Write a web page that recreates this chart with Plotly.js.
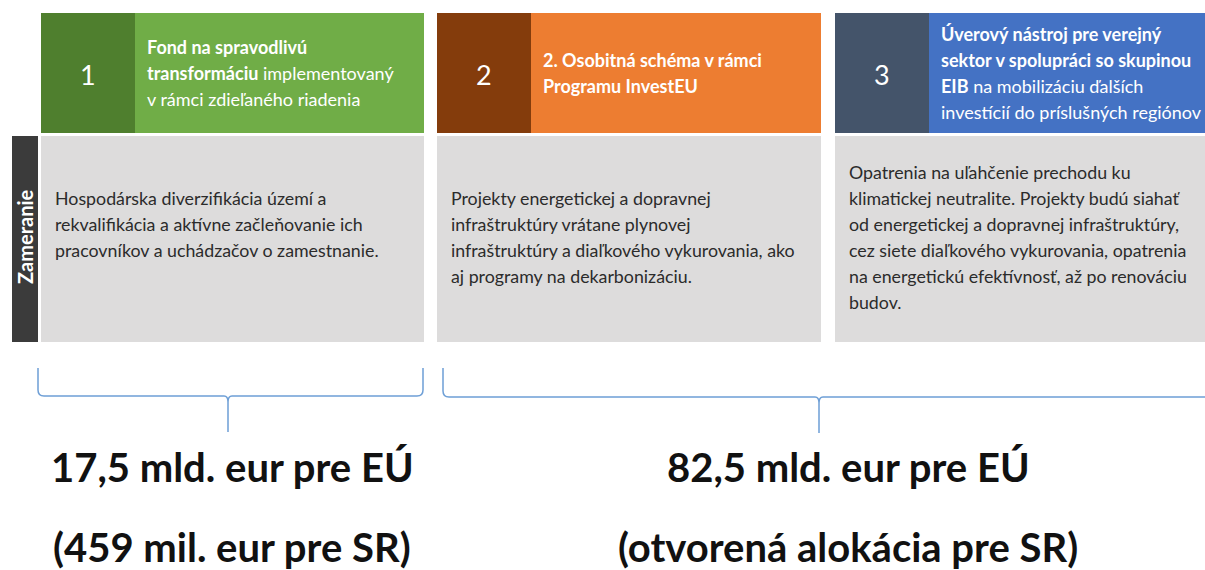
<!DOCTYPE html>
<html>
<head>
<meta charset="utf-8">
<script src="https://cdn.plot.ly/plotly-3.0.1.min.js"></script>
<style>html,body{margin:0;padding:0;background:#fff;}#chart{width:1205px;height:570px;}</style>
</head>
<body>
<div id="chart"></div>
<script>
// ---- data ----
const numbers = ['1', '2', '3'];
const headerLines = [
  ['<b>Fond na spravodlivú</b>', '<b>transformáciu</b> implementovaný', 'v rámci zdieľaného riadenia'],
  ['<b>2. Osobitná schéma v rámci</b>', '<b>Programu InvestEU</b>'],
  ['<b>Úverový nástroj pre verejný</b>', '<b>sektor v spolupráci so skupinou</b>', '<b>EIB</b> na mobilizáciu ďalších', 'investícií do príslušných regiónov']
];
const bodyLines = [
  ['Hospodárska diverzifikácia území a', 'rekvalifikácia a aktívne začleňovanie ich', 'pracovníkov a uchádzačov o zamestnanie.'],
  ['Projekty energetickej a dopravnej', 'infraštruktúry vrátane plynovej', 'infraštruktúry a diaľkového vykurovania, ako', 'aj programy na dekarbonizáciu.'],
  ['Opatrenia na uľahčenie prechodu ku', 'klimatickej neutralite. Projekty budú siahať', 'od energetickej a dopravnej infraštruktúry,', 'cez siete diaľkového vykurovania, opatrenia', 'na energetickú efektívnosť, až po renováciu', 'budov.']
];
const sectionLabel = 'Zameranie';
const amountsEU = ['17,5 mld. eur pre EÚ', '82,5 mld. eur pre EÚ'];
const amountsSR = ['(459 mil. eur pre SR)', '(otvorená alokácia pre SR)'];

// ---- styling / geometry ----
const colX = [[41, 424], [437, 821], [835, 1210]];
const darkW = 94;
const darkCol = ['#4f7f2e', '#843c0c', '#44546a'];
const lightCol = ['#70ad47', '#ed7d31', '#4472c4'];
const headTop = 13, headBot = 133, bodyTop = 136, bodyBot = 342;
const lineH = 26;
const bodyStart = [198, 198, 172];
const FONT = 'Lato, "Open Sans", sans-serif';

const shapes = [];
const annotations = [];

colX.forEach(([x0, x1], i) => {
  shapes.push({type: 'rect', xref: 'x', yref: 'y', x0: x0, x1: x0 + darkW, y0: headTop, y1: headBot, fillcolor: darkCol[i], line: {width: 0}, layer: 'below'});
  shapes.push({type: 'rect', xref: 'x', yref: 'y', x0: x0 + darkW, x1: x1, y0: headTop, y1: headBot, fillcolor: lightCol[i], line: {width: 0}, layer: 'below'});
  shapes.push({type: 'rect', xref: 'x', yref: 'y', x0: x0, x1: x1, y0: bodyTop, y1: bodyBot, fillcolor: '#dddcdc', line: {width: 0}, layer: 'below'});
  annotations.push({x: x0 + darkW / 2, y: (headTop + headBot) / 2 + 1, xref: 'x', yref: 'y', text: numbers[i], showarrow: false,
    font: {family: FONT, size: 27, color: '#ffffff'}, xanchor: 'center', yanchor: 'middle'});
  const hl = headerLines[i];
  const hc = (headTop + headBot) / 2;
  hl.forEach((t, k) => {
    annotations.push({x: x0 + darkW + 10, y: hc + (k - (hl.length - 1) / 2) * lineH, xref: 'x', yref: 'y', text: t, showarrow: false,
      font: {family: FONT, size: 18, color: '#ffffff'}, xanchor: 'left', yanchor: 'middle', align: 'left'});
  });
  bodyLines[i].forEach((t, k) => {
    annotations.push({x: x0 + 12, y: bodyStart[i] + k * lineH, xref: 'x', yref: 'y', text: t, showarrow: false,
      font: {family: FONT, size: 17.8, color: '#2b2b2b'}, xanchor: 'left', yanchor: 'middle', align: 'left'});
  });
});

// Zameranie side bar
shapes.push({type: 'rect', xref: 'x', yref: 'y', x0: 12, x1: 38, y0: bodyTop, y1: bodyBot, fillcolor: '#3b3b3b', line: {width: 0}, layer: 'below'});
annotations.push({x: 25, y: 237, xref: 'x', yref: 'y', text: '<b>' + sectionLabel + '</b>', showarrow: false, textangle: -90,
  font: {family: FONT, size: 20, color: '#ffffff'}, xanchor: 'center', yanchor: 'middle'});

// braces
function brace(xl, xr, xm, yt, yh, yb) {
  return `M ${xl},${yt} L ${xl},${yh - 6} Q ${xl},${yh} ${xl + 6},${yh} L ${xm - 4},${yh} Q ${xm},${yh} ${xm},${yh + 6} L ${xm},${yb} M ${xm},${yh + 6} Q ${xm},${yh} ${xm + 4},${yh} L ${xr - 6},${yh} Q ${xr},${yh} ${xr},${yh - 6} L ${xr},${yt}`;
}
shapes.push({type: 'path', xref: 'x', yref: 'y', path: brace(38, 423, 228, 368, 396, 432), line: {color: '#6e9fd6', width: 1.5}});
shapes.push({type: 'path', xref: 'x', yref: 'y', path: brace(443, 1225, 819, 368, 397, 433), line: {color: '#6e9fd6', width: 1.5}});

// amounts
const amtX = [232, 848];
amountsEU.forEach((t, i) => {
  annotations.push({x: amtX[i], y: 467, xref: 'x', yref: 'y', text: '<b>' + t + '</b>', showarrow: false,
    font: {family: FONT, size: 40, color: '#111111'}, xanchor: 'center', yanchor: 'middle'});
  annotations.push({x: amtX[i], y: 547, xref: 'x', yref: 'y', text: '<b>' + amountsSR[i] + '</b>', showarrow: false,
    font: {family: FONT, size: 40, color: '#111111'}, xanchor: 'center', yanchor: 'middle'});
});

const layout = {
  width: 1205, height: 570,
  margin: {l: 0, r: 0, t: 0, b: 0, pad: 0},
  paper_bgcolor: '#ffffff', plot_bgcolor: '#ffffff',
  xaxis: {range: [0, 1205], visible: false, fixedrange: true},
  yaxis: {range: [570, 0], visible: false, fixedrange: true},
  showlegend: false,
  shapes: shapes,
  annotations: annotations
};
Plotly.newPlot('chart', [], layout, {staticPlot: true, displayModeBar: false});
</script>
</body>
</html>
